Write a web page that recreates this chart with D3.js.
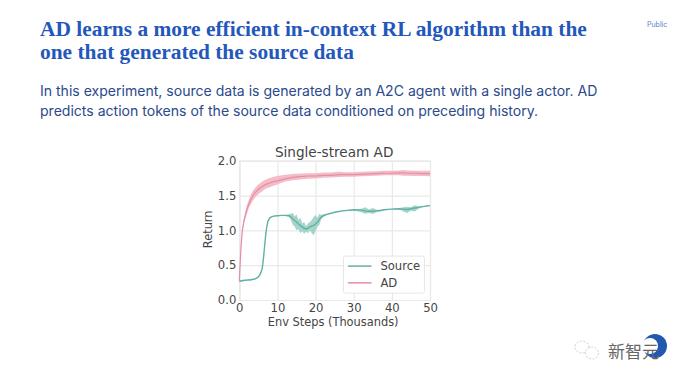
<!DOCTYPE html>
<html>
<head>
<meta charset="utf-8">
<script src="https://cdn.jsdelivr.net/npm/d3@7"></script>
<style>
  html, body { margin: 0; padding: 0; background: #fff; }
  svg { display: block; }
</style>
</head>
<body>
<script>
var titleLines = ["AD learns a more efficient in-context RL algorithm than the", "one that generated the source data"];
var bodyLines = ["In this experiment, source data is generated by an A2C agent with a single actor. AD", "predicts action tokens of the source data conditioned on preceding history."];

var xTicks = [0, 10, 20, 30, 40, 50];
var yTicks = [0, 0.5, 1, 1.5, 2];

var sourceSteps = [0, 1, 2, 3, 4, 5, 5.5, 6, 6.3, 6.6, 6.9, 7.2, 7.5, 8, 8.5, 9, 10, 11, 12, 13, 13.5, 14, 14.5, 15, 15.5, 16, 16.5, 17, 17.5, 18, 18.5, 19, 19.5, 20, 20.5, 21, 21.5, 22, 23, 25, 27, 30, 32, 33, 34, 35, 36, 37, 38, 40, 42, 43, 44, 45, 46, 47, 48, 50];
var sourceMean = [0.27, 0.28, 0.285, 0.29, 0.30, 0.33, 0.37, 0.45, 0.58, 0.75, 0.92, 1.05, 1.13, 1.18, 1.195, 1.205, 1.21, 1.215, 1.215, 1.21, 1.195, 1.17, 1.14, 1.12, 1.09, 1.07, 1.05, 1.03, 1.02, 1.03, 1.05, 1.06, 1.07, 1.09, 1.12, 1.16, 1.19, 1.21, 1.23, 1.26, 1.28, 1.295, 1.29, 1.28, 1.275, 1.275, 1.28, 1.285, 1.295, 1.305, 1.31, 1.305, 1.30, 1.31, 1.32, 1.33, 1.34, 1.355];
var sourceLow = [0.26, 0.27, 0.275, 0.28, 0.29, 0.32, 0.36, 0.44, 0.57, 0.74, 0.91, 1.04, 1.12, 1.17, 1.19, 1.20, 1.205, 1.21, 1.21, 1.19, 1.15, 1.08, 1.06, 1.00, 1.02, 0.96, 0.99, 0.95, 0.98, 0.96, 1.00, 0.96, 0.93, 0.99, 1.05, 1.08, 1.16, 1.19, 1.225, 1.255, 1.275, 1.29, 1.26, 1.24, 1.25, 1.235, 1.26, 1.275, 1.29, 1.30, 1.30, 1.27, 1.25, 1.28, 1.27, 1.31, 1.33, 1.35];
var sourceHigh = [0.28, 0.29, 0.295, 0.30, 0.31, 0.34, 0.38, 0.46, 0.59, 0.76, 0.93, 1.06, 1.14, 1.19, 1.20, 1.21, 1.215, 1.22, 1.22, 1.23, 1.24, 1.25, 1.20, 1.23, 1.15, 1.18, 1.10, 1.12, 1.06, 1.10, 1.12, 1.15, 1.19, 1.22, 1.18, 1.24, 1.22, 1.23, 1.24, 1.265, 1.285, 1.30, 1.31, 1.33, 1.30, 1.32, 1.295, 1.295, 1.30, 1.31, 1.32, 1.33, 1.34, 1.33, 1.36, 1.345, 1.35, 1.36];

var adSteps = [0, 0.2, 0.5, 0.8, 1.2, 1.6, 2, 2.5, 3, 3.5, 4, 5, 6, 7, 8, 9, 10, 12, 14, 16, 18, 20, 22, 24, 26, 28, 30, 32, 34, 36, 38, 40, 42, 43, 44, 46, 48, 50];
var adMean = [0.28, 0.50, 0.80, 1.00, 1.13, 1.22, 1.30, 1.38, 1.44, 1.49, 1.53, 1.59, 1.63, 1.66, 1.68, 1.70, 1.71, 1.74, 1.76, 1.77, 1.78, 1.78, 1.79, 1.79, 1.80, 1.80, 1.80, 1.805, 1.81, 1.815, 1.82, 1.82, 1.825, 1.825, 1.82, 1.82, 1.815, 1.815];
var adLow = [0.26, 0.47, 0.77, 0.96, 1.09, 1.17, 1.24, 1.32, 1.37, 1.42, 1.46, 1.52, 1.56, 1.60, 1.62, 1.64, 1.66, 1.70, 1.72, 1.73, 1.74, 1.745, 1.755, 1.76, 1.765, 1.77, 1.77, 1.775, 1.78, 1.785, 1.79, 1.79, 1.79, 1.785, 1.785, 1.78, 1.78, 1.775];
var adHigh = [0.31, 0.54, 0.83, 1.04, 1.17, 1.27, 1.36, 1.44, 1.51, 1.56, 1.60, 1.66, 1.70, 1.73, 1.75, 1.77, 1.78, 1.80, 1.81, 1.815, 1.82, 1.82, 1.83, 1.83, 1.84, 1.835, 1.835, 1.84, 1.845, 1.85, 1.855, 1.855, 1.86, 1.865, 1.86, 1.855, 1.855, 1.855];

var seriesNames = ["Source", "AD"];
var bandColors = ["#a5d4ca", "#f4bcc8"];
var lineColors = ["#62b2a4", "#e58ea2"];

var svg = d3.select("body").append("svg")
  .attr("width", 680)
  .attr("height", 381);

svg.append("rect").attr("width", 680).attr("height", 381).attr("fill", "#ffffff");

// slide text
svg.selectAll(".title").data(titleLines).enter().append("text")
  .attr("class", "title")
  .attr("x", 40)
  .attr("y", function(d, i) { return 35.7 + i * 23.5; })
  .attr("font-family", "'Liberation Serif', serif")
  .attr("font-weight", "bold")
  .attr("font-size", 21.4)
  .attr("fill", "#2457bb")
  .text(function(d) { return d; });

svg.selectAll(".body").data(bodyLines).enter().append("text")
  .attr("class", "body")
  .attr("x", 40)
  .attr("y", function(d, i) { return 96 + i * 20; })
  .attr("font-family", "Inter, sans-serif")
  .attr("font-size", 14.05)
  .attr("fill", "#2a4a8c")
  .text(function(d) { return d; });

svg.append("text")
  .attr("x", 647).attr("y", 27)
  .attr("font-family", "Inter, sans-serif")
  .attr("font-size", 7)
  .attr("fill", "#5a80cc")
  .text("Public");

// chart
var margin = { top: 160.7, left: 239.3 };
var width = 190.7;
var height = 139.3;

var xScale = d3.scaleLinear().range([0, width]).domain([0, 50]);
var yScale = d3.scaleLinear().range([height, 0]).domain([0, 2]);

var g = svg.append("g")
  .attr("transform", "translate(" + margin.left + "," + margin.top + ")");

var xGrid = g.append("g").attr("transform", "translate(0," + height + ")")
  .call(d3.axisBottom(xScale).tickValues(xTicks).tickSize(-height).tickFormat(""));
var yGrid = g.append("g")
  .call(d3.axisLeft(yScale).tickValues(yTicks).tickSize(-width).tickFormat(""));
[xGrid, yGrid].forEach(function(a) {
  a.selectAll("line").attr("stroke", "#e9e9e9").attr("stroke-width", 1.2);
  a.select(".domain").attr("stroke", "#e9e9e9").attr("stroke-width", 1.2);
});

var xAxis = g.append("g").attr("transform", "translate(0," + height + ")")
  .call(d3.axisBottom(xScale).tickValues(xTicks).tickSize(0).tickPadding(4).tickFormat(d3.format("d")));
var yAxis = g.append("g")
  .call(d3.axisLeft(yScale).tickValues(yTicks).tickSize(0).tickPadding(3).tickFormat(d3.format(".1f")));
[xAxis, yAxis].forEach(function(a) {
  a.select(".domain").remove();
  a.selectAll("text")
    .attr("font-family", "'DejaVu Sans', sans-serif")
    .attr("font-size", 11.6)
    .attr("fill", "#444444");
});

function band(steps, low, high) {
  return d3.area()
    .x(function(d) { return xScale(steps[d]); })
    .y0(function(d) { return yScale(low[d]); })
    .y1(function(d) { return yScale(high[d]); })(d3.range(steps.length));
}
function line(steps, vals) {
  return d3.line()
    .x(function(d) { return xScale(steps[d]); })
    .y(function(d) { return yScale(vals[d]); })(d3.range(steps.length));
}

g.append("path").attr("d", band(sourceSteps, sourceLow, sourceHigh)).attr("fill", bandColors[0]);
g.append("path").attr("d", line(sourceSteps, sourceMean)).attr("fill", "none").attr("stroke", lineColors[0]).attr("stroke-width", 1.4);
g.append("path").attr("d", band(adSteps, adLow, adHigh)).attr("fill", bandColors[1]);
g.append("path").attr("d", line(adSteps, adMean)).attr("fill", "none").attr("stroke", lineColors[1]).attr("stroke-width", 1.2);

// labels
g.append("text")
  .attr("x", width / 2 - 0.5).attr("y", -4)
  .attr("text-anchor", "middle")
  .attr("font-family", "'DejaVu Sans', sans-serif")
  .attr("font-size", 13.6)
  .attr("fill", "#444444")
  .text("Single-stream AD");

g.append("text")
  .attr("x", width / 2 - 1.5).attr("y", height + 26)
  .attr("text-anchor", "middle")
  .attr("font-family", "'DejaVu Sans', sans-serif")
  .attr("font-size", 11.4)
  .attr("fill", "#444444")
  .text("Env Steps (Thousands)");

g.append("text")
  .attr("transform", "rotate(-90)")
  .attr("x", -height / 2 + 1).attr("y", -27)
  .attr("text-anchor", "middle")
  .attr("font-family", "'DejaVu Sans', sans-serif")
  .attr("font-size", 11.4)
  .attr("fill", "#444444")
  .text("Return");

// legend
var legend = g.append("g").attr("transform", "translate(" + xScale(27.3) + "," + yScale(0.63) + ")");
legend.append("rect")
  .attr("width", 81).attr("height", 37).attr("rx", 2)
  .attr("fill", "#ffffff").attr("fill-opacity", 0.85)
  .attr("stroke", "#e6e6e6").attr("stroke-width", 1);
seriesNames.forEach(function(name, i) {
  var y = 10 + i * 16.7;
  legend.append("line")
    .attr("x1", 4.5).attr("x2", 28).attr("y1", y).attr("y2", y)
    .attr("stroke", lineColors[i]).attr("stroke-width", 1.5);
  legend.append("text")
    .attr("x", 37).attr("y", y + 4)
    .attr("font-family", "'DejaVu Sans', sans-serif")
    .attr("font-size", 11.6)
    .attr("fill", "#444444")
    .text(name);
});

// watermark
var wm = svg.append("g");
wm.append("circle").attr("cx", 655).attr("cy", 346).attr("r", 12).attr("fill", "#2258b0");
wm.append("circle").attr("cx", 650).attr("cy", 346).attr("r", 8).attr("fill", "#ffffff");
wm.append("ellipse").attr("cx", 582).attr("cy", 347).attr("rx", 7).attr("ry", 6).attr("fill", "#fff").attr("stroke", "#bbb").attr("stroke-width", 0.7).attr("stroke-dasharray", "2 1.5");
wm.append("ellipse").attr("cx", 592).attr("cy", 353).attr("rx", 6.5).attr("ry", 6).attr("fill", "#fff").attr("stroke", "#bbb").attr("stroke-width", 0.7).attr("stroke-dasharray", "2 1.5");
wm.append("text")
  .attr("x", 608).attr("y", 358)
  .attr("font-family", "'Noto Sans CJK SC', sans-serif")
  .attr("font-size", 17)
  .attr("fill", "#666666")
  .text("新智元");
</script>
</body>
</html>
